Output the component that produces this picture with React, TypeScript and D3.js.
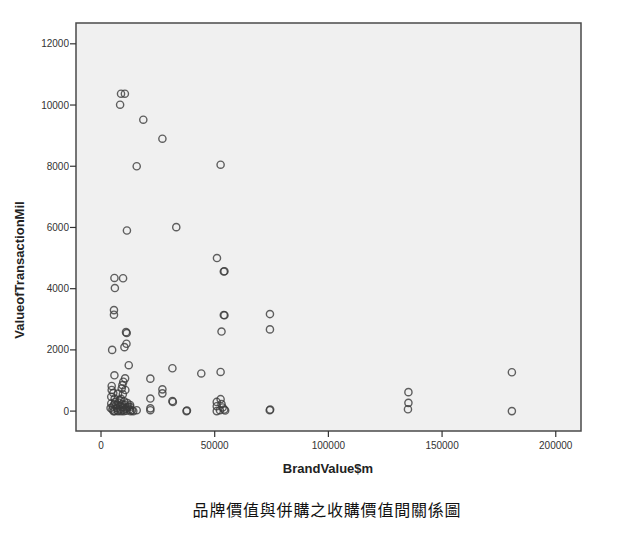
import React from "react";
import * as d3 from "d3";

// Brand value ($m) and value of transaction (mil) pairs
const brandValue: number[] = [
  8800, 10500, 8400, 18600, 27000, 15700, 52600, 11400, 33100, 51000,
  54000, 54300, 5900, 9700, 6100, 5700, 5700, 54000, 54300, 53000,
  74300, 74300, 11000, 11300, 11200, 10300, 4900, 12200, 31400, 44100,
  52600, 135200, 135200, 135000, 180700, 180700, 74200, 74400, 37600, 37800,
  5900, 21700, 10600, 9800, 9400, 9100, 4700, 4700, 10700, 27000,
  27000, 21700, 21700, 21700, 31400, 31600, 15700, 52600, 50900, 50900,
  50900, 53000, 54200, 52300, 54600, 53500,
  5400, 7500, 9600, 4500, 6000, 8200,
  4500, 5200, 5000, 5500, 6200, 6800, 7000, 7300, 7800, 8200,
  8500, 8800, 9200, 9500, 9800, 10200, 10500, 10900, 11200, 11600,
  12000, 12500, 13000, 6000, 7500, 10000, 11500, 4200, 5800, 8800,
  12800, 13600, 14200, 12800,
];
const transactionValue: number[] = [
  10370, 10370, 10010, 9520, 8900, 8000, 8050, 5900, 6010, 5000,
  4560, 4570, 4350, 4340, 4020, 3300, 3150, 3140, 3130, 2600,
  3170, 2670, 2580, 2550, 2200, 2090, 2000, 1500, 1400, 1230,
  1280, 620, 270, 60, 1270, 0, 30, 50, 0, 20,
  1170, 1060, 1070, 960, 850, 740, 820, 690, 690, 710,
  580, 410, 90, 30, 330, 300, 30, 390, 300, 160,
  0, 230, 50, 30, 20, 120,
  590, 570, 550, 470, 410, 360,
  250, 150, 50, 0, 300, 200, 100, 20, 280, 180,
  60, 0, 230, 130, 40, 320, 200, 80, 10, 260,
  150, 50, 0, 0, 0, 0, 120, 100, 220, 400,
  200, 30, 0, 140,
];
const xTicks: number[] = [0, 50000, 100000, 150000, 200000];
const yTicks: number[] = [0, 2000, 4000, 6000, 8000, 10000, 12000];
const xTitle = "BrandValue$m";
const yTitle = "ValueofTransactionMil";
const caption = "品牌價值與併購之收購價值間關係圖";

export default function App() {
  const W = 631;
  const H = 535;
  const left = 76;
  const right = 581;
  const top = 23;
  const bottom = 431;

  const x = d3.scaleLinear().domain([-11000, 211100]).range([left, right]);
  const y = d3.scaleLinear().domain([-650, 12680]).range([bottom, top]);

  const points = brandValue.map((b, i) => ({ b, t: transactionValue[i] }));
  const font = "'Liberation Sans', Arial, sans-serif";

  return (
    <svg
      width={W}
      height={H}
      style={{ position: "absolute", left: 0, top: 0, background: "#fff" }}
    >
      <rect x={left} y={top} width={right - left} height={bottom - top} fill="#f0f0f0" />
      <rect
        x={left}
        y={top}
        width={right - left}
        height={bottom - top}
        fill="none"
        stroke="#4a4a4a"
        strokeWidth={1.5}
      />
      {yTicks.map((t) => (
        <g key={"y" + t}>
          <line x1={left - 6} x2={left} y1={y(t)} y2={y(t)} stroke="#333" strokeWidth={1.2} />
          <text
            x={left - 7}
            y={y(t)}
            dy="0.35em"
            textAnchor="end"
            fontFamily={font}
            fontSize={10}
            fill="#333"
          >
            {t}
          </text>
        </g>
      ))}
      {xTicks.map((t) => (
        <g key={"x" + t}>
          <line x1={x(t)} x2={x(t)} y1={bottom} y2={bottom + 6} stroke="#333" strokeWidth={1.2} />
          <text
            x={x(t)}
            y={bottom + 18}
            textAnchor="middle"
            fontFamily={font}
            fontSize={10}
            fill="#333"
          >
            {t}
          </text>
        </g>
      ))}
      {points.map((p, i) => (
        <circle
          key={i}
          cx={x(p.b)}
          cy={y(p.t)}
          r={3.6}
          fill="none"
          stroke="#3a3a3a"
          strokeOpacity={0.8}
          strokeWidth={1.4}
        />
      ))}
      <text
        x={328}
        y={473}
        textAnchor="middle"
        fontFamily={font}
        fontSize={13}
        fontWeight="bold"
        fill="#222"
      >
        {xTitle}
      </text>
      <text
        transform={`translate(24, 270) rotate(-90)`}
        textAnchor="middle"
        fontFamily={font}
        fontSize={13}
        fontWeight="bold"
        fill="#222"
      >
        {yTitle}
      </text>
      <text
        x={327}
        y={516}
        textAnchor="middle"
        fontFamily="'Noto Sans CJK TC', sans-serif"
        fontSize={16}
        letterSpacing={0.8}
        fill="#111"
      >
        {caption}
      </text>
    </svg>
  );
}
